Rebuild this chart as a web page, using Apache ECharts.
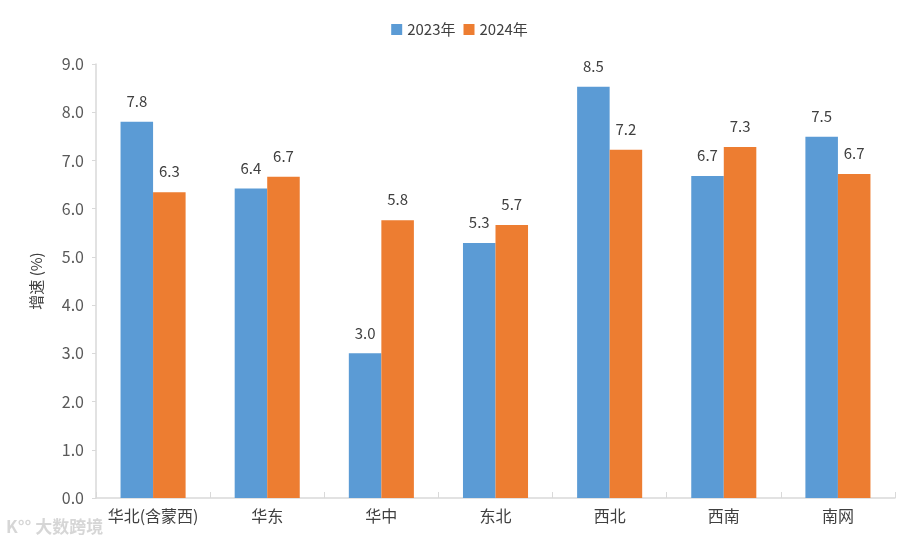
<!DOCTYPE html>
<html>
<head>
<meta charset="utf-8">
<script src="https://cdn.jsdelivr.net/npm/echarts@6/dist/echarts.min.js"></script>
<style>html,body{margin:0;padding:0;background:#fff}#c{width:919px;height:549px}</style>
</head>
<body>
<div id="c"></div>
<script>
var categories = ['华北(含蒙西)', '华东', '华中', '东北', '西北', '西南', '南网'];
var values2023 = [7.80, 6.42, 3.00, 5.29, 8.53, 6.68, 7.49];
var values2024 = [6.34, 6.66, 5.76, 5.66, 7.22, 7.28, 6.72];
var seriesNames = ['2023年', '2024年'];
var yTicks = { min: 0, max: 9, interval: 1 };

var chart = echarts.init(document.getElementById('c'));
var font = '"Noto Sans CJK SC", "Microsoft YaHei", sans-serif';
var labelCfg = {
  show: true, position: 'top', distance: 13, color: '#404040', fontSize: 15,
  fontFamily: font, formatter: function (p) { return p.value.toFixed(1); }
};
chart.setOption({
  animation: false,
  textStyle: { fontFamily: font },
  legend: {
    top: 17, left: 'center', itemWidth: 11, itemHeight: 11, itemGap: 8,
    icon: 'rect',
    textStyle: { color: '#404040', fontSize: 15, fontFamily: font },
    data: seriesNames
  },
  grid: { left: 96, right: 24, top: 64, bottom: 51 },
  xAxis: {
    type: 'category', data: categories,
    axisLine: { lineStyle: { color: '#d9d9d9', width: 1.5 } },
    axisTick: { show: true, inside: true, length: 6, lineStyle: { color: '#d9d9d9' } },
    axisLabel: { color: '#404040', fontSize: 16, margin: 10, interval: 0, fontFamily: font }
  },
  yAxis: {
    type: 'value', min: yTicks.min, max: yTicks.max, interval: yTicks.interval,
    name: '增速 (%)', nameLocation: 'middle', nameGap: 52, nameRotate: 90,
    nameTextStyle: { color: '#404040', fontSize: 15, fontFamily: font },
    axisLine: { show: true, lineStyle: { color: '#d9d9d9', width: 1.5 } },
    axisTick: { show: true, length: 4, lineStyle: { color: '#d9d9d9' } },
    splitLine: { show: false },
    axisLabel: { color: '#595959', fontSize: 16, margin: 12, fontFamily: font,
      formatter: function (v) { return v.toFixed(1); } }
  },
  series: [
    { name: seriesNames[0], type: 'bar', data: values2023, barGap: '0%', barCategoryGap: '43%',
      itemStyle: { color: '#5b9bd5' }, label: labelCfg },
    { name: seriesNames[1], type: 'bar', data: values2024,
      itemStyle: { color: '#ed7d31' }, label: labelCfg }
  ],
  graphic: [{
    type: 'text', left: 6, top: 518,
    style: { text: 'K°° 大数跨境', fill: 'rgba(180,180,180,0.55)', fontSize: 17, fontWeight: 'bold', fontFamily: font }
  }]
});
</script>
</body>
</html>
